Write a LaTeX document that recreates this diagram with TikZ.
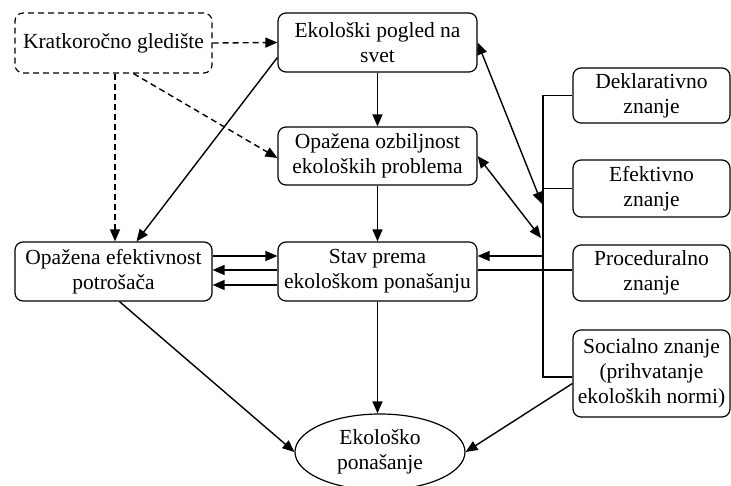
\documentclass[tikz,border=0pt]{standalone}
\usepackage{fontspec}
\setmainfont{Liberation Serif}
\newfontfamily\tnr{Liberation Serif}
\usetikzlibrary{arrows.meta,shapes.geometric}
\begin{document}
\begin{tikzpicture}[x=1pt,y=-1pt,
  box/.style={draw, rounded corners=8pt, line width=1.2pt, align=center, inner sep=0pt,
    font=\tnr\fontsize{21.5}{25}\selectfont},
  oval/.style={draw, ellipse, line width=1.2pt, align=center, inner sep=0pt,
    font=\tnr\fontsize{21.5}{25}\selectfont},
  tip/.tip={Triangle[length=12pt,width=10pt]},
  arr/.style={-tip, line width=1.4pt},
  darr/.style={tip-tip, line width=1.4pt},
  dsh/.style={dash pattern=on 6pt off 4pt},
  conn/.style={line width=1.2pt}]
\useasboundingbox (0,0) rectangle (731,486);
\node[box, dsh, minimum width=197, minimum height=60] (kg) at (113.5,43) {Kratkoročno gledište};
\node[box, minimum width=199, minimum height=59] (ep) at (377.5,42.5) {Ekološki pogled na\\svet};
\node[box, minimum width=199, minimum height=58] (oo) at (377.5,156) {Opažena ozbiljnost\\ekoloških problema};
\node[box, minimum width=199, minimum height=59] (st) at (377.5,271.5) {Stav prema\\ekološkom ponašanju};
\node[box, minimum width=197, minimum height=59] (oe) at (113.5,271.5) {Opažena efektivnost\\potrošača};
\node[oval, minimum width=170, minimum height=76] (pon) at (380,452) {Ekološko\\ponašanje};
\node[box, minimum width=157, minimum height=55] (dz) at (651.5,95.5) {Deklarativno\\znanje};
\node[box, minimum width=157, minimum height=57] (ez) at (651.5,188.5) {Efektivno\\znanje};
\node[box, minimum width=157, minimum height=56] (pz) at (651.5,273) {Proceduralno\\znanje};
\node[box, minimum width=157, minimum height=87] (sz) at (651.5,373.5) {Socialno znanje\\(prihvatanje\\ekoloških normi)};
% bus coordinates
\coordinate (b1) at (543,95.5);
\coordinate (b3) at (543,256);
\coordinate (b4) at (543,377);
\coordinate (t1) at (542,204);
\coordinate (t2) at (541,238);
% dashed arrows
\draw[arr, dsh] (kg.east) -- (ep.west);
\draw[arr, dsh] ([xshift=1.5pt]kg.south) -- ([xshift=1.5pt]oe.north);
\draw[arr, dsh] ([xshift=20pt]kg.south) -- ([yshift=-2pt]oo.west);
% solid arrows
\draw[arr] ([yshift=-15pt]ep.west) -- ([xshift=23pt]oe.north);
\draw[arr] (ep.south) -- (oo.north);
\draw[arr] (oo.south) -- (st.north);
\draw[arr] (st.south) -- (st.south |- pon.north);
\draw[arr] ([yshift=15.5pt]oe.east) -- ([yshift=15.5pt]st.west);
\draw[arr] ([yshift=1.5pt]st.west) -- ([yshift=1.5pt]oe.east);
\draw[arr] ([yshift=-13.5pt]st.west) -- ([yshift=-13.5pt]oe.east);
\draw[arr] ([xshift=6pt]oe.south) -- (pon.west);
\draw[arr] ([yshift=-10pt]sz.west) -- (pon.east);
\draw[darr] (ep.east) -- (t1);
\draw[darr] (oo.east) -- (t2);
% knowledge bus
\draw[conn] (dz.west) -- (b1) -- (b4) -- ([yshift=-3.5pt]sz.west);
\draw[conn] (ez.west) -- (ez.west -| b1);
\draw[conn] ([yshift=3pt]pz.west) -- ([yshift=3pt]pz.west -| st.east);
\draw[arr] (b3) -- (b3 -| st.east);
\end{tikzpicture}
\end{document}
